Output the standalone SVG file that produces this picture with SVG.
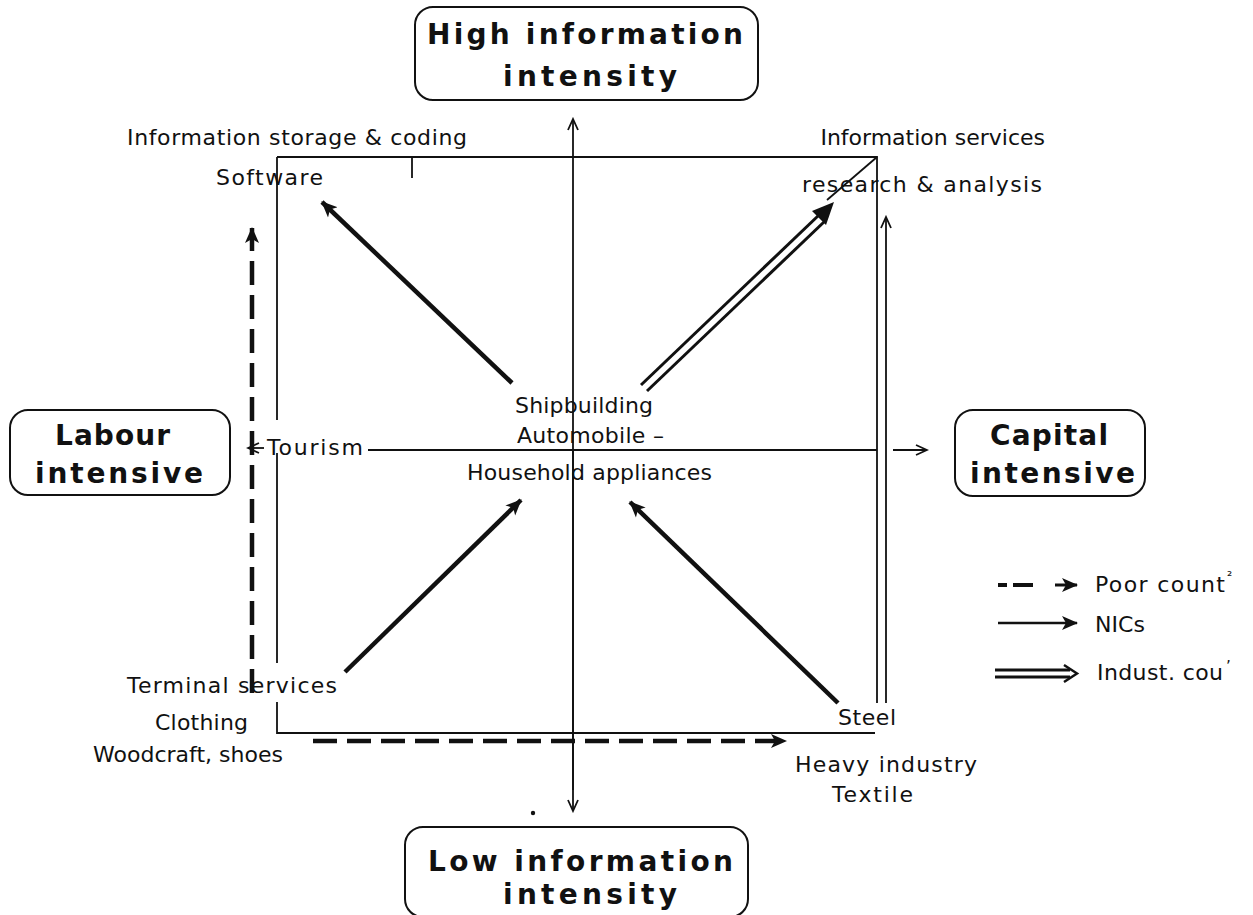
<svg xmlns="http://www.w3.org/2000/svg" width="1253" height="915" viewBox="0 0 1253 915">
<style>
  .t { font-family: "DejaVu Sans", "Liberation Sans", sans-serif; font-size: 22px; fill: #111; }
  .b { font-family: "DejaVu Sans", "Liberation Sans", sans-serif; font-size: 28px; font-weight: bold; fill: #111; }
  .box { fill: #fff; stroke: #111; stroke-width: 2; }
  .thin { stroke: #111; stroke-width: 1.8; fill: none; }
  .nic { stroke: #111; stroke-width: 4.5; fill: none; }
  .dash { stroke: #111; stroke-width: 4.5; fill: none; stroke-dasharray: 24 10; }
  .dbl { stroke: #111; stroke-width: 3; fill: none; }
</style>
<defs>
  <marker id="ax" markerUnits="userSpaceOnUse" markerWidth="14" markerHeight="12" refX="12" refY="6" orient="auto">
    <path d="M1,1 L12,6 L1,11" fill="none" stroke="#111" stroke-width="1.8"/>
  </marker>
  <marker id="fa" markerUnits="userSpaceOnUse" markerWidth="18" markerHeight="16" refX="15" refY="8" orient="auto">
    <path d="M0,1 L16,8 L0,15 L4,8 Z" fill="#111"/>
  </marker>
</defs>

<rect width="1253" height="915" fill="#fff"/>

<g id="connectors">
  <path class="thin" d="M277,157 L877,157 L877,703"/>
  <path class="thin" d="M277,157 L277,420 M277,453 L277,663 M277,702 L277,733 L875,733"/>
  <line class="thin" x1="412" y1="157" x2="412" y2="178"/>
  <line class="thin" x1="573" y1="790" x2="573" y2="119" marker-end="url(#ax)"/>
  <line class="thin" x1="573" y1="450" x2="573" y2="811" marker-end="url(#ax)"/>
  <line class="thin" x1="368" y1="450" x2="877" y2="450"/>
  <line class="thin" x1="893" y1="450" x2="927" y2="450" marker-end="url(#ax)"/>
  <line class="thin" x1="264" y1="448" x2="248" y2="448" marker-end="url(#ax)"/>
  <line class="thin" x1="886" y1="703" x2="886" y2="217" marker-end="url(#ax)"/>
  <line class="nic" x1="512" y1="383" x2="322" y2="202" marker-end="url(#fa)"/>
  <line class="nic" x1="345" y1="672" x2="521" y2="500" marker-end="url(#fa)"/>
  <line class="nic" x1="838" y1="703" x2="630" y2="502" marker-end="url(#fa)"/>
  <line class="dash" x1="252" y1="693" x2="252" y2="228" marker-end="url(#fa)"/>
  <line class="dash" x1="313" y1="741" x2="786" y2="741" marker-end="url(#fa)"/>
  <line class="dbl" x1="641" y1="385" x2="819" y2="215"/>
  <line class="dbl" x1="647" y1="391" x2="825" y2="221"/>
  <path d="M834,202 L812,211 L826,225 Z" fill="#111"/>
  <line class="thin" x1="827" y1="200" x2="877" y2="157"/>
</g>

<g id="node-high">
  <rect class="box" x="415" y="7" width="343" height="93" rx="18"/>
  <text class="b" x="427" y="44" textLength="316">High information</text>
  <text class="b" x="503" y="86" textLength="174">intensity</text>
</g>
<g id="node-low">
  <rect class="box" x="405" y="827" width="343" height="90" rx="18"/>
  <text class="b" x="428" y="871" textLength="305">Low information</text>
  <text class="b" x="503" y="904" textLength="174">intensity</text>
</g>
<g id="node-labour">
  <rect class="box" x="10" y="410" width="220" height="85" rx="18"/>
  <text class="b" x="55" y="445" textLength="115">Labour</text>
  <text class="b" x="35" y="483" textLength="168">intensive</text>
</g>
<g id="node-capital">
  <rect class="box" x="955" y="410" width="190" height="86" rx="18"/>
  <text class="b" x="990" y="445" textLength="118">Capital</text>
  <text class="b" x="970" y="483" textLength="165">intensive</text>
</g>

<g id="node-info-storage"><text class="t" x="127" y="145" textLength="340">Information storage &amp; coding</text></g>
<g id="node-software"><text class="t" x="216" y="185" textLength="107">Software</text></g>
<g id="node-info-services"><text class="t" x="1045" y="145" text-anchor="end">Information services</text></g>
<g id="node-research"><text class="t" x="802" y="192" textLength="240">research &amp; analysis</text></g>
<g id="node-shipbuilding"><text class="t" x="515" y="413" textLength="138">Shipbuilding</text></g>
<g id="node-automobile"><text class="t" x="517" y="443" textLength="147">Automobile –</text></g>
<g id="node-household"><text class="t" x="467" y="480" textLength="245">Household appliances</text></g>
<g id="node-tourism"><text class="t" x="267" y="455" textLength="96">Tourism</text></g>
<g id="node-terminal"><text class="t" x="127" y="693" textLength="210">Terminal services</text></g>
<g id="node-clothing"><text class="t" x="155" y="730" textLength="93">Clothing</text></g>
<g id="node-woodcraft"><text class="t" x="93" y="762" textLength="190">Woodcraft, shoes</text></g>
<g id="node-steel"><text class="t" x="838" y="725" textLength="58">Steel</text></g>
<g id="node-heavy"><text class="t" x="795" y="772" textLength="182">Heavy industry</text></g>
<g id="node-textile"><text class="t" x="832" y="802" textLength="81">Textile</text></g>

<g id="legend">
  <line x1="998" y1="585" x2="1007" y2="585" stroke="#111" stroke-width="4"/>
  <line x1="1013" y1="585" x2="1033" y2="585" stroke="#111" stroke-width="4"/>
  <line x1="1055" y1="585" x2="1077" y2="585" stroke="#111" stroke-width="3" marker-end="url(#fa)"/>
  <text class="t" x="1095" y="592" textLength="130">Poor count</text>
  <text class="t" x="1227" y="580" style="font-size:13px">²</text>
  <line x1="998" y1="623" x2="1077" y2="623" stroke="#111" stroke-width="2.5" marker-end="url(#fa)"/>
  <text class="t" x="1095" y="632" textLength="50">NICs</text>
  <line class="dbl" x1="995" y1="670" x2="1070" y2="670"/>
  <line class="dbl" x1="995" y1="677" x2="1070" y2="677"/>
  <path d="M1064,665 L1077,673.5 L1064,682" fill="none" stroke="#111" stroke-width="2.5"/>
  <text class="t" x="1097" y="680" textLength="126">Indust. cou</text>
  <text class="t" x="1226" y="672" style="font-size:15px">’</text>
</g>

<circle cx="533" cy="813" r="2.2" fill="#111"/>
</svg>
